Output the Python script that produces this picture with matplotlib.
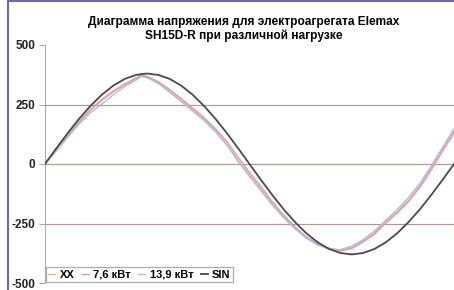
import matplotlib
matplotlib.use("Agg")
import matplotlib.pyplot as plt
from matplotlib.lines import Line2D

plt.rcParams['font.family'] = ['Liberation Sans', 'DejaVu Sans']
plt.rcParams['axes.unicode_minus'] = False

## Data (x in degrees of one period)

angle = [0, 10, 20, 30, 40, 50, 60, 70, 80, 85, 90, 100, 110, 120, 130, 140, 150, 160, 170,
         180, 190, 200, 210, 220, 230, 240, 250, 260, 270, 280, 290, 300, 310, 320, 330,
         340, 350, 360]

xx = [0, 62, 122, 180, 230, 272, 307, 337, 362, 376, 366, 340, 305, 268, 228, 188, 140, 85, 15,
      -45, -105, -165, -220, -268, -310, -338, -355, -362, -350, -322, -290, -240, -200, -150, -90,
      -15, 65, 140]
kw_7_6 = [0, 58, 118, 175, 226, 268, 303, 333, 358, 372, 368, 345, 312, 275, 235, 195, 148, 95, 28,
          -35, -95, -158, -214, -264, -306, -336, -354, -366, -355, -328, -295, -248, -206, -158, -98,
          -25, 55, 130]
kw_13_9 = [0, 55, 112, 168, 215, 252, 290, 325, 352, 368, 362, 338, 300, 262, 222, 182, 135, 80, 10,
           -52, -112, -172, -226, -272, -312, -340, -358, -360, -345, -318, -282, -236, -192, -140, -82,
           -8, 70, 148]
sin_ref = [0, 66, 130, 190, 244, 291, 329, 357, 374, 378, 380, 374, 357, 329, 291, 244, 190, 130, 66,
           0, -66, -130, -190, -244, -291, -329, -357, -374, -380, -374, -357, -329, -291, -244, -190,
           -130, -66, 0]

labels = ["XX", "7,6 кВт", "13,9 кВт", "SIN"]
colors = ["#f2b58a", "#d99ab0", "#a9bde6", "#4a4a4a"]

## Plot

fig = plt.figure(figsize=(4.54, 2.90), dpi=100)
ax = fig.add_axes([45 / 454, 1 - 283 / 290, 1 - 45 / 454, (283 - 45) / 290])

for yv in [250, 0, -250]:
    ax.axhline(yv, color="#b39a8e", lw=0.9, zorder=1)

series = [xx, kw_7_6, kw_13_9, sin_ref]
for vals, lab, col in zip(series, labels, colors):
    lw = 1.3 if lab == "SIN" else 1.0
    ax.plot(angle, vals, color=col, lw=lw, label=lab, zorder=3 if lab == "SIN" else 2)

ax.set_xlim(0, 360)
ax.set_ylim(-500, 500)
ax.set_yticks([-500, -250, 0, 250, 500])
ax.set_xticks([])
for s in ["top", "right", "bottom"]:
    ax.spines[s].set_visible(False)
ax.spines["left"].set_color("#b8a89c")
ax.tick_params(axis="y", length=4, color="#b8a89c", labelsize=8.5, pad=3)
for t in ax.get_yticklabels():
    t.set_fontweight("bold")
    t.set_color("#222222")

fig.text(0.537, 1 - 29 / 290, "Диаграмма напряжения для электроагрегата Elemax\nSH15D-R при различной нагрузке",
         ha="center", va="center", fontsize=8.6, fontweight="bold", linespacing=1.25)

leg = ax.legend(loc="lower left", ncol=4, frameon=True, fancybox=False,
                handlelength=0.6, handletextpad=0.4, columnspacing=0.7, borderpad=0.25,
                borderaxespad=0.05, prop={"weight": "bold", "size": 8})
leg.get_frame().set_edgecolor("#9a9a9a")
leg.get_frame().set_linewidth(0.9)

# purple frame of the screenshot
fig.add_artist(Line2D([8 / 454, 8 / 454], [0, 1], color="#7466b4", lw=1.5))
fig.add_artist(Line2D([8 / 454, 1], [1 - 1 / 290, 1 - 1 / 290], color="#7466b4", lw=1.5))

fig.savefig("out.png", dpi=100)
